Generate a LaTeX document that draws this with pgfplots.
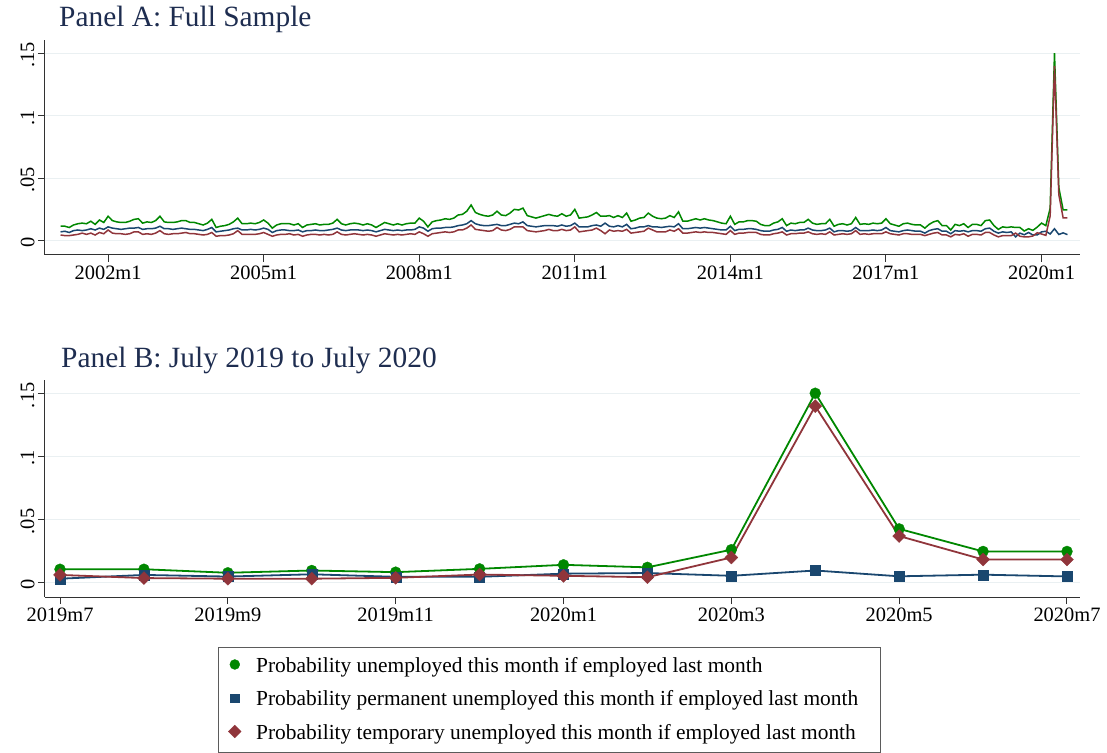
\documentclass[border=0pt]{standalone}
\usepackage{fontspec}
\setmainfont{Liberation Serif}
\usepackage{pgfplots}
\usepackage{pgfplotstable}
\pgfplotsset{compat=1.18}
\definecolor{sgreen}{RGB}{0,135,0}
\definecolor{snavy}{RGB}{26,71,111}
\definecolor{smaroon}{RGB}{144,53,59}
\definecolor{gridc}{RGB}{234,240,242}
\definecolor{titlec}{RGB}{30,45,80}
\definecolor{axisc}{RGB}{50,50,50}

% Panel A: monthly series, t = months since 1960m1 (493 = 2001m2)
\pgfplotstableread{
t g b r
493 0.0115 0.0070 0.0045
494 0.0115 0.0075 0.0040
495 0.0105 0.0065 0.0040
496 0.0125 0.0080 0.0045
497 0.0135 0.0085 0.0050
498 0.0140 0.0080 0.0060
499 0.0135 0.0085 0.0050
500 0.0155 0.0095 0.0060
501 0.0130 0.0085 0.0045
502 0.0165 0.0100 0.0065
503 0.0145 0.0090 0.0055
504 0.0195 0.0110 0.0085
505 0.0160 0.0100 0.0060
506 0.0150 0.0095 0.0055
507 0.0145 0.0090 0.0055
508 0.0145 0.0095 0.0050
509 0.0155 0.0100 0.0055
510 0.0170 0.0100 0.0070
511 0.0175 0.0105 0.0070
512 0.0140 0.0090 0.0050
513 0.0150 0.0095 0.0055
514 0.0145 0.0095 0.0050
515 0.0160 0.0100 0.0060
516 0.0195 0.0115 0.0080
517 0.0150 0.0095 0.0055
518 0.0145 0.0095 0.0050
519 0.0145 0.0090 0.0055
520 0.0150 0.0095 0.0055
521 0.0160 0.0100 0.0060
522 0.0160 0.0095 0.0065
523 0.0145 0.0090 0.0055
524 0.0145 0.0090 0.0055
525 0.0135 0.0085 0.0050
526 0.0125 0.0080 0.0045
527 0.0140 0.0090 0.0050
528 0.0170 0.0105 0.0065
529 0.0105 0.0070 0.0035
530 0.0115 0.0075 0.0040
531 0.0120 0.0080 0.0040
532 0.0130 0.0085 0.0045
533 0.0150 0.0095 0.0055
534 0.0180 0.0100 0.0080
535 0.0135 0.0085 0.0050
536 0.0135 0.0085 0.0050
537 0.0140 0.0090 0.0050
538 0.0135 0.0085 0.0050
539 0.0145 0.0090 0.0055
540 0.0165 0.0100 0.0065
541 0.0140 0.0090 0.0050
542 0.0100 0.0065 0.0035
543 0.0125 0.0080 0.0045
544 0.0135 0.0085 0.0050
545 0.0135 0.0085 0.0050
546 0.0135 0.0080 0.0055
547 0.0125 0.0080 0.0045
548 0.0135 0.0085 0.0050
549 0.0105 0.0070 0.0035
550 0.0125 0.0080 0.0045
551 0.0130 0.0080 0.0050
552 0.0135 0.0085 0.0050
553 0.0125 0.0080 0.0045
554 0.0130 0.0080 0.0050
555 0.0130 0.0085 0.0045
556 0.0140 0.0090 0.0050
557 0.0170 0.0100 0.0070
558 0.0135 0.0085 0.0050
559 0.0125 0.0080 0.0045
560 0.0135 0.0085 0.0050
561 0.0140 0.0085 0.0055
562 0.0135 0.0085 0.0050
563 0.0125 0.0080 0.0045
564 0.0135 0.0085 0.0050
565 0.0125 0.0080 0.0045
566 0.0105 0.0070 0.0035
567 0.0125 0.0080 0.0045
568 0.0145 0.0090 0.0055
569 0.0135 0.0085 0.0050
570 0.0125 0.0080 0.0045
571 0.0135 0.0085 0.0050
572 0.0125 0.0080 0.0045
573 0.0135 0.0085 0.0050
574 0.0140 0.0085 0.0055
575 0.0140 0.0090 0.0050
576 0.0180 0.0110 0.0070
577 0.0155 0.0100 0.0055
578 0.0110 0.0075 0.0035
579 0.0150 0.0095 0.0055
580 0.0160 0.0100 0.0060
581 0.0165 0.0100 0.0065
582 0.0175 0.0105 0.0070
583 0.0170 0.0105 0.0065
584 0.0180 0.0110 0.0070
585 0.0205 0.0120 0.0085
586 0.0210 0.0125 0.0085
587 0.0235 0.0135 0.0100
588 0.0285 0.0160 0.0125
589 0.0225 0.0135 0.0090
590 0.0210 0.0125 0.0085
591 0.0200 0.0120 0.0080
592 0.0195 0.0120 0.0075
593 0.0205 0.0125 0.0080
594 0.0235 0.0130 0.0105
595 0.0205 0.0120 0.0085
596 0.0200 0.0120 0.0080
597 0.0220 0.0130 0.0090
598 0.0250 0.0140 0.0110
599 0.0245 0.0135 0.0110
600 0.0260 0.0150 0.0110
601 0.0200 0.0120 0.0080
602 0.0190 0.0115 0.0075
603 0.0180 0.0110 0.0070
604 0.0190 0.0115 0.0075
605 0.0200 0.0120 0.0080
606 0.0210 0.0120 0.0090
607 0.0200 0.0120 0.0080
608 0.0195 0.0115 0.0080
609 0.0215 0.0125 0.0090
610 0.0195 0.0115 0.0080
611 0.0205 0.0120 0.0085
612 0.0250 0.0140 0.0110
613 0.0180 0.0110 0.0070
614 0.0185 0.0110 0.0075
615 0.0190 0.0110 0.0080
616 0.0205 0.0120 0.0085
617 0.0225 0.0125 0.0100
618 0.0195 0.0115 0.0080
619 0.0195 0.0140 0.0055
620 0.0200 0.0115 0.0085
621 0.0185 0.0110 0.0075
622 0.0200 0.0120 0.0080
623 0.0185 0.0110 0.0075
624 0.0220 0.0130 0.0090
625 0.0155 0.0095 0.0060
626 0.0165 0.0100 0.0065
627 0.0180 0.0110 0.0070
628 0.0185 0.0110 0.0075
629 0.0220 0.0120 0.0100
630 0.0195 0.0110 0.0085
631 0.0180 0.0110 0.0070
632 0.0175 0.0105 0.0070
633 0.0180 0.0110 0.0070
634 0.0200 0.0115 0.0085
635 0.0185 0.0110 0.0075
636 0.0230 0.0135 0.0095
637 0.0155 0.0095 0.0060
638 0.0155 0.0095 0.0060
639 0.0165 0.0100 0.0065
640 0.0175 0.0105 0.0070
641 0.0165 0.0100 0.0065
642 0.0175 0.0105 0.0070
643 0.0165 0.0100 0.0065
644 0.0160 0.0095 0.0065
645 0.0150 0.0090 0.0060
646 0.0140 0.0085 0.0055
647 0.0135 0.0085 0.0050
648 0.0195 0.0115 0.0080
649 0.0130 0.0080 0.0050
650 0.0150 0.0090 0.0060
651 0.0150 0.0090 0.0060
652 0.0160 0.0095 0.0065
653 0.0160 0.0095 0.0065
654 0.0155 0.0090 0.0065
655 0.0130 0.0080 0.0050
656 0.0120 0.0075 0.0045
657 0.0120 0.0075 0.0045
658 0.0140 0.0085 0.0055
659 0.0150 0.0090 0.0060
660 0.0175 0.0105 0.0070
661 0.0120 0.0075 0.0045
662 0.0140 0.0085 0.0055
663 0.0135 0.0080 0.0055
664 0.0145 0.0085 0.0060
665 0.0145 0.0085 0.0060
666 0.0170 0.0100 0.0070
667 0.0140 0.0085 0.0055
668 0.0130 0.0080 0.0050
669 0.0135 0.0080 0.0055
670 0.0135 0.0085 0.0050
671 0.0170 0.0100 0.0070
672 0.0115 0.0070 0.0045
673 0.0130 0.0080 0.0050
674 0.0135 0.0080 0.0055
675 0.0125 0.0075 0.0050
676 0.0135 0.0080 0.0055
677 0.0185 0.0105 0.0080
678 0.0130 0.0080 0.0050
679 0.0135 0.0080 0.0055
680 0.0130 0.0080 0.0050
681 0.0140 0.0085 0.0055
682 0.0135 0.0080 0.0055
683 0.0140 0.0085 0.0055
684 0.0175 0.0105 0.0070
685 0.0135 0.0080 0.0055
686 0.0125 0.0075 0.0050
687 0.0115 0.0070 0.0045
688 0.0135 0.0080 0.0055
689 0.0140 0.0085 0.0055
690 0.0130 0.0080 0.0050
691 0.0125 0.0075 0.0050
692 0.0125 0.0075 0.0050
693 0.0100 0.0060 0.0040
694 0.0130 0.0080 0.0050
695 0.0150 0.0090 0.0060
696 0.0160 0.0095 0.0065
697 0.0120 0.0075 0.0045
698 0.0120 0.0075 0.0045
699 0.0085 0.0055 0.0030
700 0.0130 0.0080 0.0050
701 0.0120 0.0075 0.0045
702 0.0135 0.0080 0.0055
703 0.0105 0.0070 0.0035
704 0.0130 0.0080 0.0050
705 0.0130 0.0080 0.0050
706 0.0120 0.0075 0.0045
707 0.0160 0.0095 0.0065
708 0.0165 0.0100 0.0065
709 0.0120 0.0075 0.0045
710 0.0090 0.0060 0.0030
711 0.0110 0.0070 0.0040
712 0.0105 0.0065 0.0040
713 0.0110 0.0070 0.0040
714 0.0105 0.0030 0.0060
715 0.0105 0.0060 0.0035
716 0.0077 0.0047 0.0030
717 0.0095 0.0065 0.0030
718 0.0082 0.0045 0.0037
719 0.0108 0.0045 0.0063
720 0.0140 0.0070 0.0053
721 0.0120 0.0075 0.0042
722 0.0260 0.0053 0.0198
723 0.1500 0.0095 0.1398
724 0.0425 0.0049 0.0368
725 0.0246 0.0062 0.0182
726 0.0246 0.0048 0.0182
}\dataA

% Panel B: 0 = 2019m7 ... 12 = 2020m7
\pgfplotstableread{
t g b r
0 0.0105 0.0030 0.0060
1 0.0105 0.0060 0.0035
2 0.0077 0.0047 0.0030
3 0.0095 0.0065 0.0030
4 0.0082 0.0045 0.0037
5 0.0108 0.0045 0.0063
6 0.0140 0.0070 0.0053
7 0.0120 0.0075 0.0042
8 0.0260 0.0053 0.0198
9 0.1500 0.0095 0.1398
10 0.0425 0.0049 0.0368
11 0.0246 0.0062 0.0182
12 0.0246 0.0048 0.0182
}\dataB

\pgfplotsset{
  stata/.style={
    scale only axis,
    axis x line*=bottom, axis y line*=left,
    axis line style={axisc, line width=1bp, -},
    tick style={axisc, line width=1bp},
    tick align=outside, major tick length=7bp,
    ymin=-0.0115, ymax=0.1605,
    ytick={0,0.05,0.1,0.15}, yticklabels={0,.05,.1,.15},
    ymajorgrids, grid style={gridc, line width=1bp},
    ticklabel style={font=\fontsize{20.5}{24}\selectfont, text=black},
    yticklabel style={rotate=90, anchor=south, xshift=-2bp},
    minor tick num=0,
  },
  legsize/.style={legend image code/.code={\draw[##1, mark size=#1] plot coordinates {(0bp,2bp)};}},
}

\begin{document}
\begin{tikzpicture}
\useasboundingbox (0,0) rectangle (1107bp,753bp);
\clip (0,0) rectangle (1107bp,753bp);

\node[anchor=base west, inner sep=0pt, text=titlec, font=\fontsize{29.5}{34}\selectfont] at (59bp,726bp) {Panel A: Full Sample};
\node[anchor=base west, inner sep=0pt, text=titlec, font=\fontsize{29.5}{34}\selectfont] at (61bp,385bp) {Panel B: July 2019 to July 2020};

\begin{axis}[stata,
  at={(45bp,498bp)}, anchor=south west,
  width=1035bp, height=215bp,
  xmin=489.4, xmax=728.9,
  xtick={504,540,576,612,648,684,720},
  xticklabels={2002m1,2005m1,2008m1,2011m1,2014m1,2017m1,2020m1},
]
\addplot[sgreen, line width=1.5bp] table[x=t,y=g]{\dataA};
\addplot[snavy, line width=1.5bp] table[x=t,y=b]{\dataA};
\addplot[smaroon, line width=1.5bp] table[x=t,y=r]{\dataA};
\end{axis}

\begin{axis}[stata,
  at={(45bp,156bp)}, anchor=south west,
  width=1035bp, height=217bp,
  xmin=-0.179, xmax=12.155,
  xtick={0,2,4,6,8,10,12},
  xticklabels={2019m7,2019m9,2019m11,2020m1,2020m3,2020m5,2020m7},
  legend cell align=left,
  legend style={at={(0.1671,-0.2304)}, anchor=north west,
    draw=axisc!80, line width=1bp, fill=white,
    font=\fontsize{21.5}{25}\selectfont,
    inner xsep=10bp, inner ysep=9bp,
    nodes={inner sep=0pt, text height=16bp, text depth=4bp},
    row sep=13.5bp,
    /tikz/every odd column/.append style={column sep=15bp}},
]
\addplot[sgreen, line width=1.8bp, mark=*, mark size=5.5bp,
  mark options={solid, line width=0.3bp, fill=sgreen, draw=sgreen},
  legsize=5bp]
  table[x=t,y=g]{\dataB};
\addlegendentry{Probability unemployed this month if employed last month}
\addplot[snavy, line width=1.8bp, mark=square*, mark size=5bp,
  mark options={solid, line width=0.3bp, fill=snavy, draw=snavy},
  legsize=4.2bp]
  table[x=t,y=b]{\dataB};
\addlegendentry{Probability permanent unemployed this month if employed last month\hspace*{12bp}}
\addplot[smaroon, line width=1.8bp, mark=square*, mark size=4.6bp,
  mark options={solid, line width=0.3bp, fill=smaroon, draw=smaroon, rotate=45},
  legsize=4.5bp]
  table[x=t,y=r]{\dataB};
\addlegendentry{Probability temporary unemployed this month if employed last month}
\end{axis}
\end{tikzpicture}
\end{document}
